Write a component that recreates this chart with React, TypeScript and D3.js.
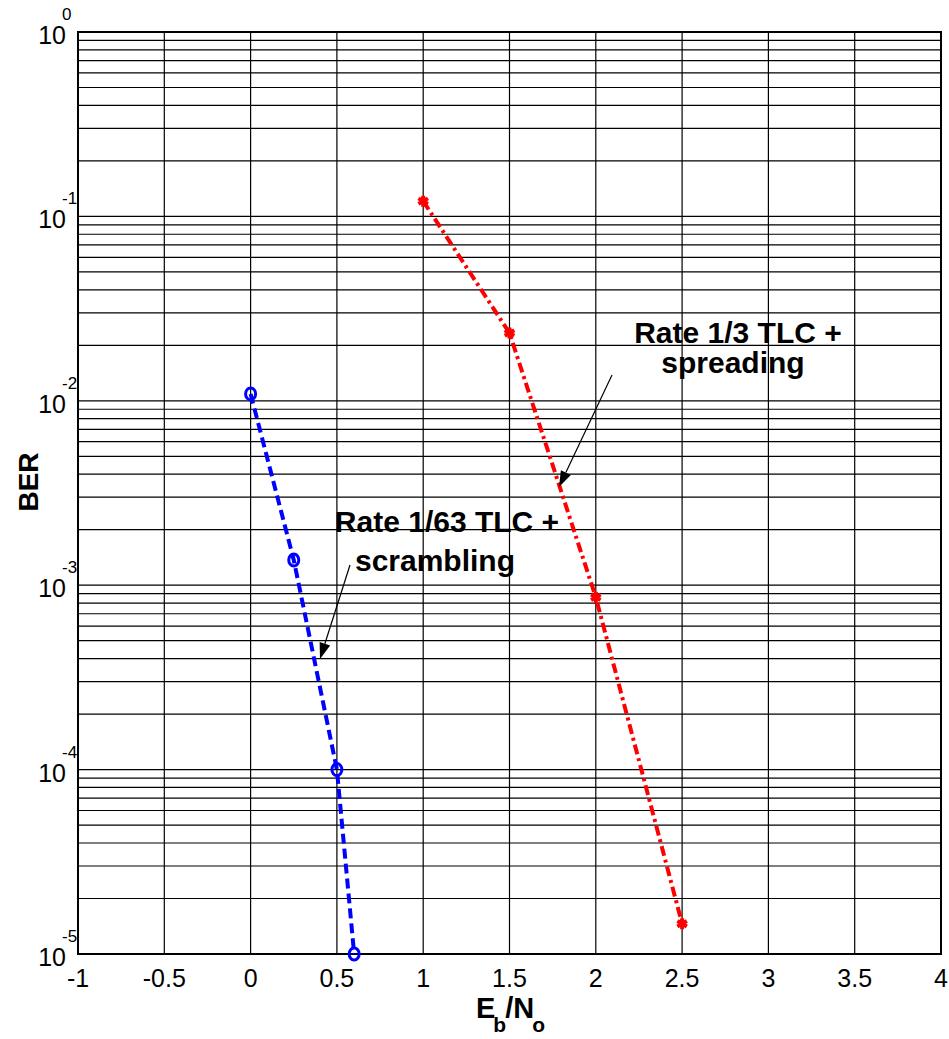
import React from "react";
import * as d3 from "d3";

// valores
const xTicks = [-1, -0.5, 0, 0.5, 1, 1.5, 2, 2.5, 3, 3.5, 4];
const yDecades = [0, -1, -2, -3, -4, -5];

const blueX = [0, 0.25, 0.5, 0.6];
const blueY = [1.09e-2, 1.37e-3, 1.0e-4, 1.0e-5];

const redX = [1, 1.5, 2, 2.5];
const redY = [0.121, 0.0233, 8.6e-4, 1.46e-5];

const width = 949;
const height = 1039;
const margin = { top: 32, right: 8, bottom: 85, left: 78 };
const font = "'Liberation Sans', Arial, sans-serif";

const App = () => {
  const x = d3
    .scaleLinear()
    .domain([-1, 4])
    .range([margin.left, width - margin.right]);
  const y = d3
    .scaleLog()
    .domain([1e-5, 1])
    .range([height - margin.bottom, margin.top]);

  // linhas de grade (menores e maiores)
  const gridY: number[] = [];
  for (let e = -5; e < 0; e++) {
    for (let m = 1; m < 10; m++) gridY.push(m * Math.pow(10, e));
  }

  const line = d3
    .line<[number, number]>()
    .x((d) => x(d[0]))
    .y((d) => y(d[1]));

  const blue = blueX.map((v, i) => [v, blueY[i]] as [number, number]);
  const red = redX.map((v, i) => [v, redY[i]] as [number, number]);
  const star = d3.symbol().type(d3.symbolAsterisk).size(85)();

  const [x0, x1] = x.range();
  const [y0, y1] = y.range();

  const arrows = [
    { from: [612, 375], to: [559, 487] },
    { from: [350, 565], to: [320, 659] },
  ];

  return (
    <svg
      width={width}
      height={height}
      style={{ position: "absolute", left: 0, top: 0, background: "#fff" }}
    >
      {/* grade */}
      {gridY.map((g, i) => (
        <line key={"gy" + i} x1={x0} x2={x1} y1={y(g)} y2={y(g)} stroke="#000" strokeWidth={1.2} />
      ))}
      {xTicks.map((t) => (
        <line key={"gx" + t} x1={x(t)} x2={x(t)} y1={y0} y2={y1} stroke="#000" strokeWidth={1.2} />
      ))}
      {/* moldura */}
      <rect x={x0} y={y1} width={x1 - x0} height={y0 - y1} fill="none" stroke="#000" strokeWidth={2} />

      {/* rótulos eixo x */}
      {xTicks.map((t) => (
        <text key={"tx" + t} x={x(t)} y={y0 + 33} fontSize={25} fontFamily={font} textAnchor="middle">
          {t}
        </text>
      ))}
      {/* rótulos eixo y */}
      {yDecades.map((e) => (
        <g key={"ty" + e}>
          <text x={66} y={y(Math.pow(10, e)) + 12} fontSize={25} fontFamily={font} textAnchor="end">
            10
          </text>
          <text x={62} y={y(Math.pow(10, e)) - 12} fontSize={17} fontFamily={font} textAnchor="start">
            {e}
          </text>
        </g>
      ))}

      {/* séries */}
      <path d={line(blue) ?? ""} fill="none" stroke="#0000ff" strokeWidth={4} strokeDasharray="10,5" />
      {blue.map((d, i) => (
        <ellipse key={"b" + i} cx={x(d[0])} cy={y(d[1])} rx={5} ry={6} fill="none" stroke="#0000ff" strokeWidth={3} />
      ))}
      <path d={line(red) ?? ""} fill="none" stroke="#ff0000" strokeWidth={4} strokeDasharray="10,4,3,4" />
      {red.map((d, i) => (
        <path
          key={"r" + i}
          d={star ?? ""}
          transform={`translate(${x(d[0])},${y(d[1])})`}
          fill="#ff0000"
          stroke="#ff0000"
          strokeWidth={4}
        />
      ))}

      {/* anotações */}
      <text x={447} y={532} fontSize={30} fontWeight="bold" fontFamily={font} textAnchor="middle">
        Rate 1/63 TLC +
      </text>
      <text x={435} y={571} fontSize={30} fontWeight="bold" fontFamily={font} textAnchor="middle">
        scrambling
      </text>
      <text x={738} y={343} fontSize={30} fontWeight="bold" fontFamily={font} textAnchor="middle">
        Rate 1/3 TLC +
      </text>
      <text x={733} y={373} fontSize={30} fontWeight="bold" fontFamily={font} textAnchor="middle">
        spreading
      </text>
      {arrows.map((a, i) => {
        const [fx, fy] = a.from;
        const [tx, ty] = a.to;
        const ang = Math.atan2(ty - fy, tx - fx);
        const L = 16;
        const W = 5.5;
        const bx = tx - L * Math.cos(ang);
        const by = ty - L * Math.sin(ang);
        const px = -Math.sin(ang) * W;
        const py = Math.cos(ang) * W;
        return (
          <g key={"a" + i}>
            <line x1={fx} y1={fy} x2={bx} y2={by} stroke="#000" strokeWidth={1.2} />
            <polygon points={`${tx},${ty} ${bx + px},${by + py} ${bx - px},${by - py}`} fill="#000" />
          </g>
        );
      })}

      {/* títulos dos eixos */}
      <text
        transform={`translate(38,482) rotate(-90)`}
        fontSize={28}
        fontWeight="bold"
        fontFamily={font}
        textAnchor="middle"
      >
        BER
      </text>
      <text x={476} y={1018} fontSize={29} fontWeight="bold" fontFamily={font}>
        <tspan>E</tspan>
        <tspan fontSize={21} dy={14} dx={-2}>b</tspan>
        <tspan dy={-14} dx={-1}>/N</tspan>
        <tspan fontSize={21} dy={14} dx={-2}>o</tspan>
      </text>
    </svg>
  );
};

export default App;
